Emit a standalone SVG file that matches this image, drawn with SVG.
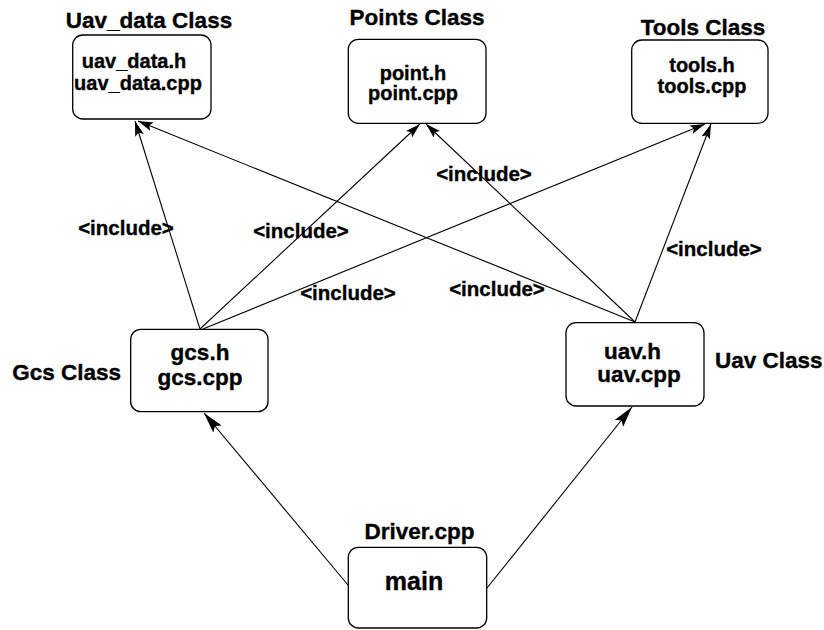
<svg xmlns="http://www.w3.org/2000/svg" width="824" height="630" viewBox="0 0 824 630">
  <style>
    text { font-family: "Liberation Sans", Arial, sans-serif; font-weight: bold; fill: #000; stroke: #000; stroke-width: 0.35; }
    .hdr { font-size: 22.5px; }
    .body { font-size: 20px; text-anchor: middle; }
    .big { font-size: 22.5px; text-anchor: middle; }
    .inc { font-size: 20.5px; text-anchor: middle; }
    .box { fill: #fff; stroke: #000; stroke-width: 1.3; }
    .conn line { stroke: #000; stroke-width: 1.1; }
  </style>
  <defs>
    <marker id="arr" markerUnits="userSpaceOnUse" markerWidth="16" markerHeight="10" refX="15" refY="4.5" orient="auto">
      <path d="M0,0 L15,4.5 L0,9 L3,4.5 z" fill="#000"/>
    </marker>
    <marker id="arrBig" markerUnits="userSpaceOnUse" markerWidth="22" markerHeight="12" refX="21" refY="5.5" orient="auto">
      <path d="M0,0 L21,5.5 L0,11 L4,5.5 z" fill="#000"/>
    </marker>
  </defs>
  <rect width="824" height="630" fill="#fff"/>

  <g id="connectors" class="conn">
    <line x1="200" y1="329" x2="135" y2="121" marker-end="url(#arr)"/>
    <line x1="200" y1="329" x2="420" y2="124" marker-end="url(#arr)"/>
    <line x1="203" y1="329" x2="705" y2="124" marker-end="url(#arr)"/>
    <line x1="635" y1="322" x2="138" y2="121" marker-end="url(#arr)"/>
    <line x1="635" y1="322" x2="426" y2="124" marker-end="url(#arr)"/>
    <line x1="635" y1="322" x2="711" y2="124" marker-end="url(#arr)"/>
    <line x1="348" y1="585" x2="204" y2="413" marker-end="url(#arrBig)"/>
    <line x1="487" y1="588" x2="632" y2="407" marker-end="url(#arrBig)"/>
  </g>

  <g id="labels">
    <text class="inc" x="126" y="235">&lt;include&gt;</text>
    <text class="inc" x="301" y="238">&lt;include&gt;</text>
    <text class="inc" x="348" y="300">&lt;include&gt;</text>
    <text class="inc" x="484" y="181">&lt;include&gt;</text>
    <text class="inc" x="714" y="256">&lt;include&gt;</text>
    <text class="inc" x="497" y="296">&lt;include&gt;</text>
  </g>

  <g id="uav_data">
    <text class="hdr" x="149" y="28" text-anchor="middle">Uav_data Class</text>
    <rect class="box" x="72.7" y="35" width="138.3" height="84" rx="10"/>
    <text class="body" x="134" y="68">uav_data.h</text>
    <text class="body" x="138" y="90">uav_data.cpp</text>
  </g>

  <g id="points">
    <text class="hdr" x="417" y="25" text-anchor="middle">Points Class</text>
    <rect class="box" x="348.3" y="39.3" width="137.7" height="84" rx="10"/>
    <text class="body" x="413" y="80">point.h</text>
    <text class="body" x="413" y="100">point.cpp</text>
  </g>

  <g id="tools">
    <text class="hdr" x="703" y="35" text-anchor="middle">Tools Class</text>
    <rect class="box" x="631.7" y="40" width="136.3" height="83.3" rx="10"/>
    <text class="body" x="702" y="72">tools.h</text>
    <text class="body" x="702" y="93">tools.cpp</text>
  </g>

  <g id="gcs">
    <text class="hdr" x="121" y="380" text-anchor="end">Gcs Class</text>
    <rect class="box" x="130.7" y="329.3" width="137.3" height="82.4" rx="10"/>
    <text class="big" x="200" y="360">gcs.h</text>
    <text class="big" x="200" y="385">gcs.cpp</text>
  </g>

  <g id="uav">
    <text class="hdr" x="715" y="368">Uav Class</text>
    <rect class="box" x="566" y="322.7" width="138" height="83.3" rx="10"/>
    <text class="big" x="632.5" y="359">uav.h</text>
    <text class="big" x="639" y="382">uav.cpp</text>
  </g>

  <g id="driver">
    <text class="hdr" x="419.5" y="539" text-anchor="middle">Driver.cpp</text>
    <rect class="box" x="348.3" y="547.3" width="138.4" height="80.7" rx="10"/>
    <text x="414" y="590" text-anchor="middle" style="font-size:25px">main</text>
  </g>
</svg>
